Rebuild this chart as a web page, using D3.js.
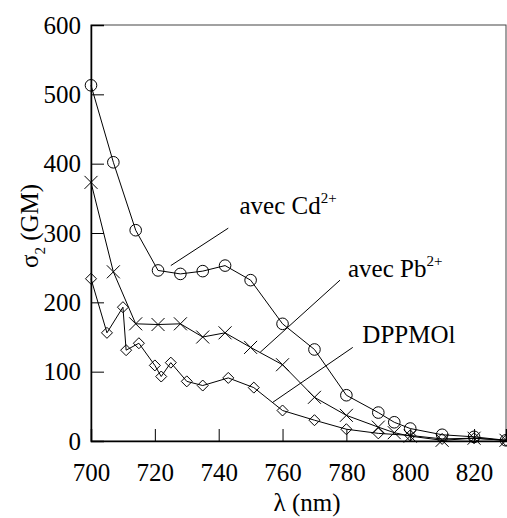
<!DOCTYPE html>
<html><head><meta charset="utf-8">
<script src="https://cdn.jsdelivr.net/npm/d3@7/dist/d3.min.js"></script>
<style>body{margin:0;background:#fff}svg{display:block}svg text{font-family:"Liberation Serif","Times New Roman",Times,"DejaVu Serif",serif !important;fill:#000}</style>
</head><body>
<svg id="c" width="507" height="518"></svg>
<script>
// data
const cdX = [700, 707, 714, 721, 728, 735, 742, 750, 760, 770, 780, 790, 795, 800, 810, 820, 830];
const cdY = [513, 402, 304, 246, 241, 245, 253, 232, 169, 132, 66, 41, 27, 18, 9, 6, 1];
const pbX = [700, 707, 714, 721, 728, 735, 742, 750, 760, 770, 780, 790, 795, 800, 810, 820, 830];
const pbY = [373, 244, 169, 168, 169, 150, 156, 135, 110, 63, 37, 20, 12, 7, 1, 4, 1];
const dpX = [700, 705, 710, 711, 715, 720, 722, 725, 730, 735, 743, 751, 760, 770, 780, 790, 800, 810, 820, 830];
const dpY = [234, 156, 193, 131, 141, 109, 93, 113, 86, 80, 91, 77, 44, 30, 17, 11, 8, 3, 4, 1];
const xTicks = [700, 720, 740, 760, 780, 800, 820];
const yTicks = [0, 100, 200, 300, 400, 500, 600];
const labels = [
  {name: "avec Cd", sup: "2+", line: [[725, 253], [743, 307]], text: [746.5, 327]},
  {name: "avec Pb", sup: "2+", line: [[753, 128], [778, 232]], text: [780.5, 236]},
  {name: "DPPMOl", sup: "", line: [[757, 56], [782, 135]], text: [785, 142]}
];

const FONT = '"Liberation Serif","Times New Roman",Times,"DejaVu Serif",serif';
const svg = d3.select("#c");
const x = d3.scaleLinear().domain([700, 830]).range([91, 506]);
const y = d3.scaleLinear().domain([0, 600]).range([441, 25]);
const FS = 25;

// frame
svg.append("rect").attr("x", x(700)).attr("y", y(600))
  .attr("width", x(830) - x(700)).attr("height", y(0) - y(600))
  .attr("fill", "none").attr("stroke", "#444").attr("stroke-width", 1);

// axes with inward ticks
const gx = svg.append("g").attr("transform", `translate(0,${y(0)})`)
  .call(d3.axisBottom(x).tickValues(xTicks).tickSize(-12).tickPadding(22).tickFormat(d3.format("d")));
const gy = svg.append("g").attr("transform", `translate(${x(700)},0)`)
  .call(d3.axisLeft(y).tickValues(yTicks).tickSize(-13).tickPadding(10).tickFormat(d3.format("d")));
[gx, gy].forEach(g => {
  g.attr("font-family", FONT).attr("font-size", FS);
  g.select(".domain").attr("stroke", "#000").attr("stroke-width", 1.5);
  g.selectAll(".tick line").attr("stroke", "#000").attr("stroke-width", 1);
  g.selectAll(".tick text").attr("font-family", FONT).attr("font-size", FS).attr("fill", "#000");
});
gx.selectAll(".tick").filter(d => d === 700).select("line").remove();
gy.selectAll(".tick").filter(d => d === 0 || d === 600).select("line").remove();

// axis titles
svg.append("text").attr("x", 307).attr("y", 511).attr("text-anchor", "middle")
  .attr("font-family", FONT).attr("font-size", FS).text("λ (nm)");
const yt = svg.append("text").attr("transform", "translate(38,226) rotate(-90)")
  .attr("text-anchor", "middle").attr("font-family", FONT).attr("font-size", FS);
yt.append("tspan").text("σ");
yt.append("tspan").attr("dy", 7).attr("font-size", 15).text("2");
yt.append("tspan").attr("dy", -7).text(" (GM)");

// series
const line = d3.line().x(d => x(d[0])).y(d => y(d[1]));
const series = [
  {xs: cdX, ys: cdY, m: "circle"},
  {xs: pbX, ys: pbY, m: "cross"},
  {xs: dpX, ys: dpY, m: "diamond"}
];
series.forEach(s => {
  const pts = s.xs.map((v, i) => [v, s.ys[i]]);
  svg.append("path").datum(pts).attr("d", line).attr("fill", "none").attr("stroke", "#000").attr("stroke-width", 1);
  const g = svg.append("g");
  pts.forEach(p => {
    const cx = x(p[0]), cy = y(p[1]);
    if (s.m === "circle") {
      g.append("circle").attr("cx", cx).attr("cy", cy).attr("r", 5.8).attr("fill", "none").attr("stroke", "#000").attr("stroke-width", 1);
    } else if (s.m === "cross") {
      const r = 6.5;
      g.append("path").attr("d", `M${cx - r},${cy - r}L${cx + r},${cy + r}M${cx - r},${cy + r}L${cx + r},${cy - r}`)
        .attr("stroke", "#000").attr("stroke-width", 1).attr("fill", "none");
    } else {
      const r = 5.5;
      g.append("path").attr("d", `M${cx},${cy - r}L${cx + r},${cy}L${cx},${cy + r}L${cx - r},${cy}Z`)
        .attr("stroke", "#000").attr("stroke-width", 1).attr("fill", "none");
    }
  });
});

// annotations
labels.forEach(l => {
  svg.append("line").attr("x1", x(l.line[0][0])).attr("y1", y(l.line[0][1]))
    .attr("x2", x(l.line[1][0])).attr("y2", y(l.line[1][1]))
    .attr("stroke", "#000").attr("stroke-width", 1);
  const t = svg.append("text").attr("x", x(l.text[0])).attr("y", y(l.text[1]))
    .attr("font-family", FONT).attr("font-size", FS);
  t.append("tspan").text(l.name);
  if (l.sup) t.append("tspan").attr("dy", -11).attr("font-size", 15).text(l.sup);
});
</script>
</body></html>
